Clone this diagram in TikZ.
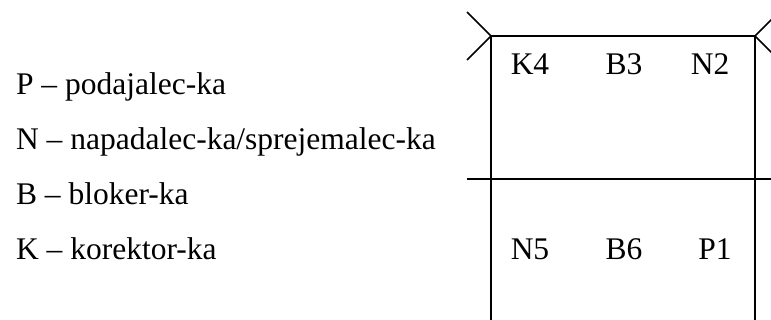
\documentclass[tikz,border=0pt]{standalone}
\usepackage{fontspec}
\setmainfont{Liberation Serif}
\usepackage{tikz}

\begin{document}
\begin{tikzpicture}[x=1pt,y=-1pt,line width=1.5pt,font=\fontsize{31.5}{36}\selectfont]
        \useasboundingbox (0,0) rectangle (771,320);

        % Court corners
        \coordinate (tl) at (491,36);
        \coordinate (tr) at (755,36);
        \coordinate (bl) at (491,320);
        \coordinate (br) at (755,320);
        \coordinate (netl) at (467,179);
        \coordinate (netr) at (775,179);

        \draw (bl) -- (tl) -- (tr) -- (br);
        \draw (netl) -- (netr);

        % Antennas
        \draw (467,12) -- (tl) -- (467,60);
        \draw (779,12) -- (tr) -- (779,60);

        \draw
            % Legend
            (12,95) node[anchor=base west] (p) {P – podajalec-ka}
            (12,150) node[anchor=base west] (n) {N – napadalec-ka/sprejemalec-ka}
            (12,205) node[anchor=base west] (b) {B – bloker-ka}
            (12,260) node[anchor=base west] (k) {K – korektor-ka}

            % Front row
            (530,75) node[anchor=base] (k4) {K4}
            (624,75) node[anchor=base] (b3) {B3}
            (710,75) node[anchor=base] (n2) {N2}

            % Back row
            (530,260) node[anchor=base] (n5) {N5}
            (624,260) node[anchor=base] (b6) {B6}
            (715,260) node[anchor=base] (p1) {P1};
    \end{tikzpicture}
\end{document}
